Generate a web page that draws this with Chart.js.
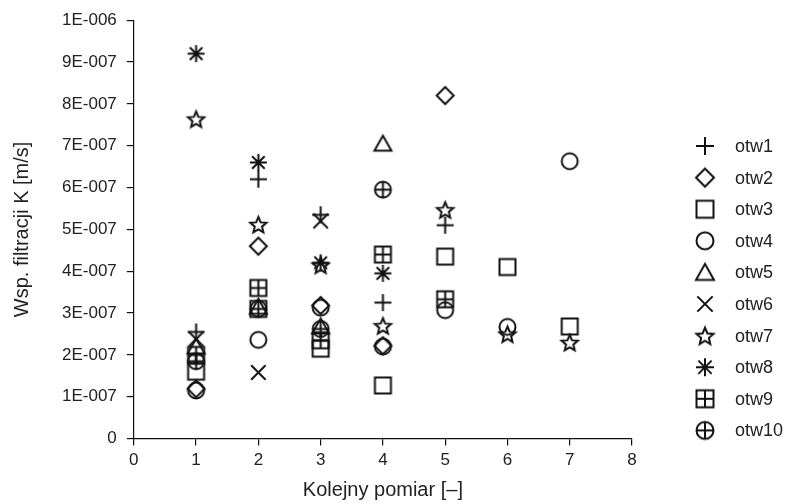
<!DOCTYPE html>
<html>
<head>
<meta charset="utf-8">
<script src="https://cdn.jsdelivr.net/npm/chart.js@4.4.0/dist/chart.umd.min.js"></script>
<style>
  html, body { margin: 0; padding: 0; background: #fff; }
  #wrap { width: 787px; height: 504px; }
</style>
</head>
<body>
<div id="wrap"><canvas id="chart" width="787" height="504"></canvas></div>
<script>
// Kolejne pomiary (os X)
var pomiary = [1, 2, 3, 4, 5, 6, 7];

// Wsp. filtracji K [m/s] dla kazdego otworu, null = brak pomiaru
var otw1  = [2.55e-7, 6.20e-7, 5.35e-7, 3.25e-7, 5.10e-7, null,    null];
var otw2  = [1.19e-7, 4.60e-7, 3.18e-7, 2.22e-7, 8.20e-7, null,    null];
var otw3  = [1.60e-7, 3.10e-7, 2.15e-7, 1.27e-7, 4.35e-7, 4.10e-7, 2.68e-7];
var otw4  = [1.15e-7, 2.36e-7, 3.13e-7, 2.20e-7, 3.07e-7, 2.67e-7, 6.63e-7];
var otw5  = [2.20e-7, 3.15e-7, 2.68e-7, 7.05e-7, null,    null,    null];
var otw6  = [2.38e-7, 1.58e-7, 5.20e-7, null,    null,    null,    null];
var otw7  = [7.64e-7, 5.12e-7, 4.15e-7, 2.70e-7, 5.47e-7, 2.50e-7, 2.30e-7];
var otw8  = [9.20e-7, 6.60e-7, 4.20e-7, 3.95e-7, null,    null,    null];
var otw9  = [2.00e-7, 3.60e-7, 2.35e-7, 4.40e-7, 3.33e-7, null,    null];
var otw10 = [1.85e-7, 3.10e-7, 2.62e-7, 5.95e-7, null,    null,    null];

var seriesNames   = ['otw1', 'otw2', 'otw3', 'otw4', 'otw5', 'otw6', 'otw7', 'otw8', 'otw9', 'otw10'];
var seriesValues  = [otw1, otw2, otw3, otw4, otw5, otw6, otw7, otw8, otw9, otw10];
var seriesMarkers = ['plus', 'diamond', 'square', 'circle', 'triangle', 'cross', 'star', 'asterisk', 'squarePlus', 'circlePlus'];

var xTickLabels = ['0', '1', '2', '3', '4', '5', '6', '7', '8'];
var yTickLabels = ['0', '1E-007', '2E-007', '3E-007', '4E-007', '5E-007', '6E-007', '7E-007', '8E-007', '9E-007', '1E-006'];

var ink  = '#111';
var txt  = '#222';
var face = 'Liberation Sans, Arial, sans-serif';

// ── Markers ──────────────────────────────────────
function marker(kind, size) {
  var c = document.createElement('canvas');
  c.width = c.height = size + 6;
  var ctx = c.getContext('2d');
  var m = c.width / 2, r = size / 2;
  ctx.strokeStyle = ink;
  ctx.lineWidth = 2;
  ctx.beginPath();

  function plus(d) {
    ctx.moveTo(m - d, m); ctx.lineTo(m + d, m);
    ctx.moveTo(m, m - d); ctx.lineTo(m, m + d);
  }
  function cross(d) {
    ctx.moveTo(m - d, m - d); ctx.lineTo(m + d, m + d);
    ctx.moveTo(m + d, m - d); ctx.lineTo(m - d, m + d);
  }

  if (kind === 'plus') plus(r);
  if (kind === 'diamond') {
    ctx.moveTo(m, m - r); ctx.lineTo(m + r, m); ctx.lineTo(m, m + r); ctx.lineTo(m - r, m); ctx.closePath();
  }
  if (kind === 'square' || kind === 'squarePlus') {
    ctx.rect(m - r + 0.5, m - r + 0.5, size - 1, size - 1);
    if (kind === 'squarePlus') plus(r - 0.5);
  }
  if (kind === 'circle' || kind === 'circlePlus') {
    ctx.moveTo(m + r - 0.5, m);
    ctx.arc(m, m, r - 0.5, 0, Math.PI * 2);
    if (kind === 'circlePlus') plus(r - 0.5);
  }
  if (kind === 'triangle') {
    ctx.moveTo(m, m - r + 0.5); ctx.lineTo(m + r, m + r - 1.5); ctx.lineTo(m - r, m + r - 1.5); ctx.closePath();
  }
  if (kind === 'cross') cross(r * 0.85);
  if (kind === 'star') {
    for (var i = 0; i < 10; i++) {
      var a = -Math.PI / 2 + i * Math.PI / 5;
      var rr = i % 2 === 0 ? r : r * 0.45;
      var px = m + rr * Math.cos(a), py = m + 1 + rr * Math.sin(a);
      if (i === 0) ctx.moveTo(px, py); else ctx.lineTo(px, py);
    }
    ctx.closePath();
  }
  if (kind === 'asterisk') { plus(r); cross(r * 0.74); }

  ctx.stroke();
  return c;
}

var pointImgs  = seriesMarkers.map(function(k){ return marker(k, 17); });
var legendImgs = seriesMarkers.map(function(k){ return marker(k, 18); });

// ── Legend drawn by hand on the right ────────────
var legendPlugin = {
  id: 'sideLegend',
  afterDraw: function(chart) {
    var ctx = chart.ctx;
    var top = 146, step = 31.6, mx = 705, tx = 735;
    ctx.save();
    ctx.font = '18px ' + face;
    ctx.fillStyle = txt;
    ctx.textBaseline = 'middle';
    seriesNames.forEach(function(name, i) {
      var y = top + i * step;
      var img = legendImgs[i];
      ctx.drawImage(img, mx - img.width / 2, y - img.height / 2);
      ctx.fillText(name, tx, y + 1);
    });
    ctx.restore();
  }
};

var datasets = seriesNames.map(function(name, i) {
  return {
    label: name,
    data: pomiary.map(function(p, j){ return { x: p, y: seriesValues[i][j] }; })
                 .filter(function(d){ return d.y !== null; }),
    pointStyle: pointImgs[i],
    pointRadius: 9,
    pointHoverRadius: 9
  };
});

new Chart(document.getElementById('chart'), {
  type: 'scatter',
  data: { datasets: datasets },
  plugins: [legendPlugin],
  options: {
    responsive: false,
    animation: false,
    events: [],
    layout: { padding: { left: 10, top: 10, right: 155, bottom: 2 } },
    plugins: {
      legend: { display: false },
      tooltip: { enabled: false }
    },
    scales: {
      x: {
        type: 'linear',
        min: 0, max: 8,
        ticks: {
          stepSize: 1,
          color: txt,
          font: { family: face, size: 17 },
          padding: 5,
          callback: function(v){ return xTickLabels[Math.round(v)]; }
        },
        grid: { drawOnChartArea: false, drawTicks: true, tickLength: 7, color: ink, lineWidth: 1.2 },
        border: { display: true, color: ink, width: 1.2 },
        title: {
          display: true,
          text: 'Kolejny pomiar [–]',
          color: txt,
          font: { family: face, size: 20 },
          padding: { top: 2, bottom: 0 }
        }
      },
      y: {
        type: 'linear',
        min: 0, max: 1e-6,
        ticks: {
          stepSize: 1e-7,
          color: txt,
          font: { family: face, size: 17 },
          padding: 10,
          callback: function(v){ return yTickLabels[Math.round(v / 1e-7)]; }
        },
        grid: { drawOnChartArea: false, drawTicks: true, tickLength: 7, color: ink, lineWidth: 1.2 },
        border: { display: true, color: ink, width: 1.2 },
        title: {
          display: true,
          text: 'Wsp. filtracji K [m/s]',
          color: txt,
          font: { family: face, size: 20 },
          padding: { top: 0, bottom: 18 }
        }
      }
    }
  }
});
</script>
</body>
</html>
